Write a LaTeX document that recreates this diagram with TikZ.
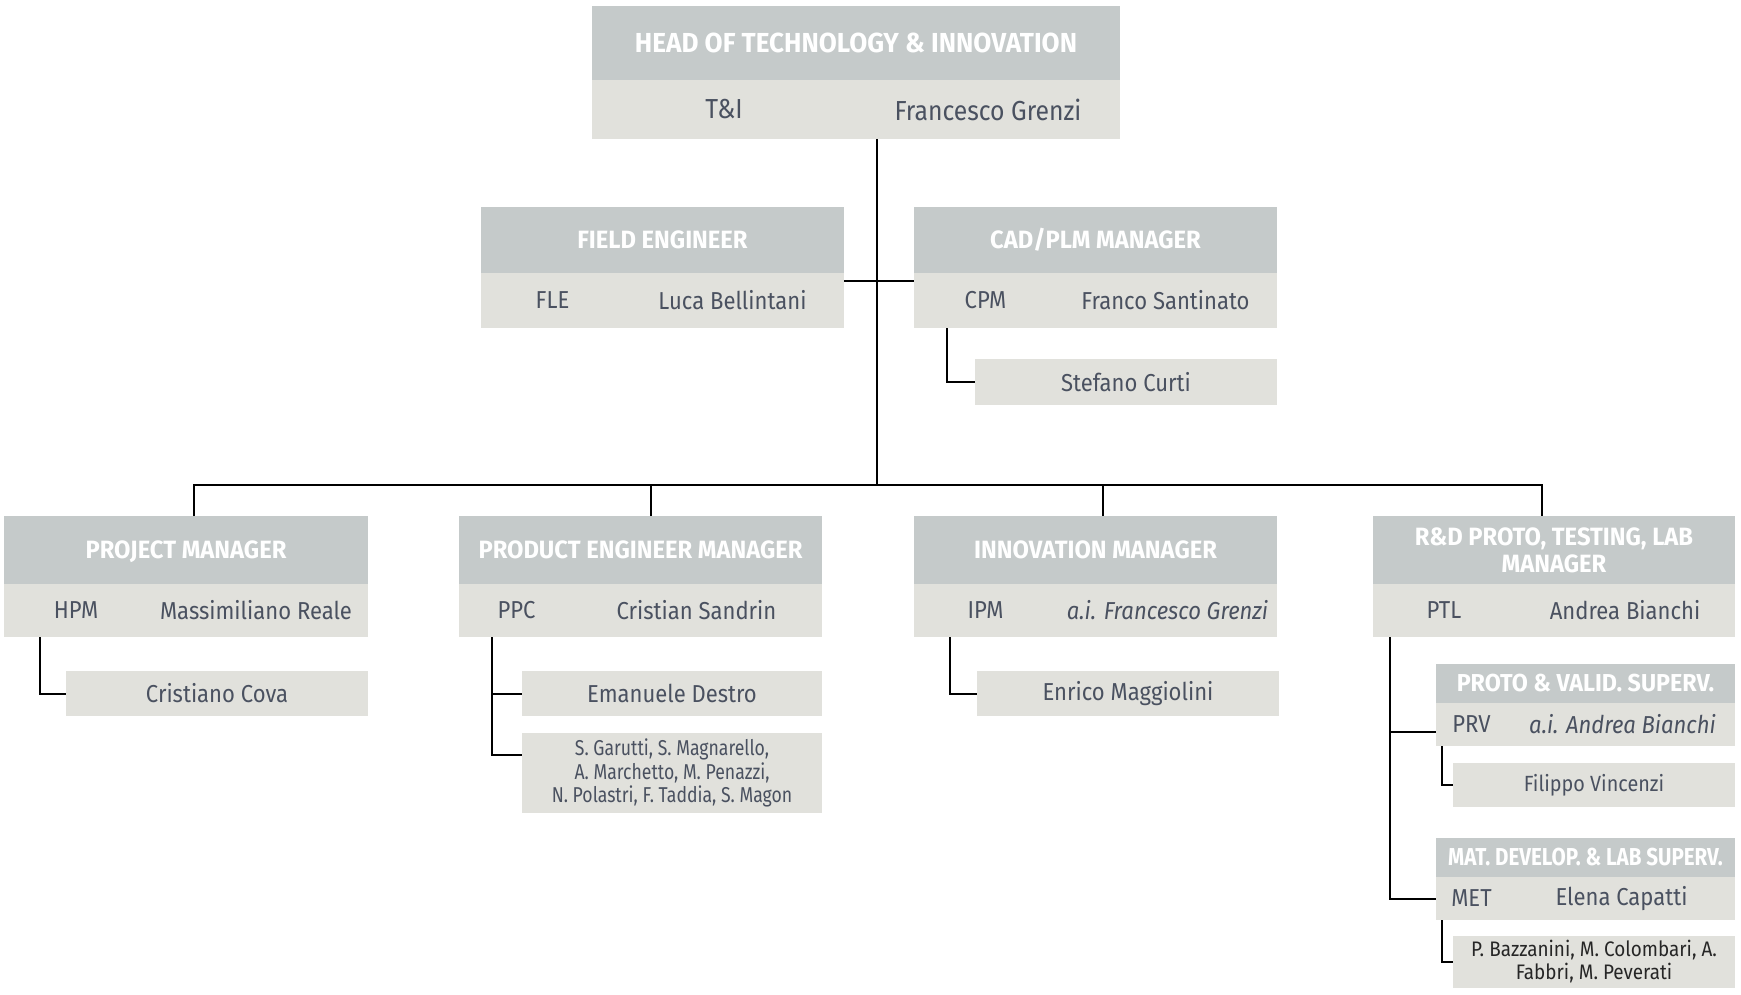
\documentclass[tikz,border=0pt]{standalone}
\usepackage{fontspec}
\setmainfont{Fira Sans}[FakeStretch=0.9]
\newfontfamily\headfont{Fira Sans}[FakeStretch=0.95]
\newfontfamily\tightfont{Fira Sans}[FakeStretch=0.84]
\newfontfamily\narrowfont{Fira Sans}[FakeStretch=0.82]
\begin{document}
\begin{tikzpicture}[x=1pt,y=-1pt]
\newcommand{\topsize}{\fontsize{27.5}{31}\selectfont}
\newcommand{\midsize}{\fontsize{24.5}{27}\selectfont}
\newcommand{\lowsize}{\fontsize{21}{23}\selectfont}
\definecolor{headcolor}{RGB}{197,202,202}
\definecolor{subcolor}{RGB}{225,225,220}
\definecolor{namecolor}{RGB}{74,81,96}
\tikzstyle{box}=[anchor=north west,inner sep=0pt,outer sep=0pt]
\tikzstyle{head}=[box,fill=headcolor,text=white,font=\headfont\fontsize{25}{27}\selectfont\bfseries,align=center]
\tikzstyle{sub}=[box,fill=subcolor]
\tikzstyle{member}=[box,fill=subcolor,text=namecolor,font=\midsize,align=center]
\tikzstyle{tag}=[text=namecolor,font=\midsize,inner sep=0pt]
\tikzstyle{link}=[line width=2pt]
\useasboundingbox (0,0) rectangle (1741,995);
% top
\node[head,font=\headfont\topsize\bfseries,minimum width=528pt,minimum height=74pt] (techH) at (592,6) {HEAD OF TECHNOLOGY \& INNOVATION};
\node[sub,minimum width=528pt,minimum height=59pt] (techS) at (techH.south west) {};
\node[tag,font=\topsize] (techC) at ([xshift=-132pt]techS.center) {T\&I};
\node[tag,font=\topsize] (techN) at ([xshift=132pt]techS.center) {Francesco Grenzi};
% staff
\node[head,minimum width=363pt,minimum height=66pt] (fleH) at (481,207) {FIELD ENGINEER};
\node[sub,minimum width=363pt,minimum height=55pt] (fleS) at (fleH.south west) {};
\node[tag] (fleC) at ([xshift=-110pt]fleS.center) {FLE};
\node[tag] (fleN) at ([xshift=70pt]fleS.center) {Luca Bellintani};
\node[head,minimum width=363pt,minimum height=66pt] (cpmH) at (914,207) {CAD/PLM MANAGER};
\node[sub,minimum width=363pt,minimum height=55pt] (cpmS) at (cpmH.south west) {};
\node[tag] (cpmC) at ([xshift=-110pt]cpmS.center) {CPM};
\node[tag] (cpmN) at ([xshift=70pt]cpmS.center) {Franco Santinato};
\node[member,minimum width=302pt,minimum height=46pt] (curti) at (975,359) {Stefano Curti};
% managers
\node[head,text depth=0pt,minimum width=364pt,minimum height=68pt] (pmH) at (4,516) {PROJECT MANAGER};
\node[sub,minimum width=364pt,minimum height=53pt] (pmS) at (pmH.south west) {};
\node[tag] (pmC) at ([xshift=-110pt]pmS.center) {HPM};
\node[tag] (pmN) at ([xshift=70pt]pmS.center) {Massimiliano Reale};
\node[head,minimum width=363pt,minimum height=68pt] (pemH) at (459,516) {PRODUCT ENGINEER MANAGER};
\node[sub,minimum width=363pt,minimum height=53pt] (pemS) at (pemH.south west) {};
\node[tag] (pemC) at ([xshift=-124pt]pemS.center) {PPC};
\node[tag] (pemN) at ([xshift=56pt]pemS.center) {Cristian Sandrin};
\node[head,minimum width=363pt,minimum height=68pt] (imH) at (914,516) {INNOVATION MANAGER};
\node[sub,minimum width=363pt,minimum height=53pt] (imS) at (imH.south west) {};
\node[tag] (imC) at ([xshift=-110pt]imS.center) {IPM};
\node[tag] (imN) at ([xshift=72pt]imS.center) {\itshape a.i. Francesco Grenzi};
\node[head,minimum width=362pt,minimum height=68pt] (rdH) at (1373,516) {R\&D PROTO, TESTING, LAB\\MANAGER};
\node[sub,minimum width=362pt,minimum height=53pt] (rdS) at (rdH.south west) {};
\node[tag] (rdC) at ([xshift=-110pt]rdS.center) {PTL};
\node[tag] (rdN) at ([xshift=71pt]rdS.center) {Andrea Bianchi};
% teams
\node[member,minimum width=302pt,minimum height=45pt] (cova) at (66,671) {Cristiano Cova};
\node[member,minimum width=300pt,minimum height=45pt] (destro) at (522,671) {Emanuele Destro};
\node[member,font=\narrowfont\fontsize{21.5}{23.5}\selectfont,minimum width=300pt,minimum height=80pt] (garutti) at (522,733) {S. Garutti, S. Magnarello,\\A. Marchetto, M. Penazzi,\\N. Polastri, F. Taddia, S. Magon};
\node[member,minimum width=302pt,minimum height=45pt] (maggiolini) at (977,671) {Enrico Maggiolini};
\node[head,font=\headfont\fontsize{24.5}{27}\selectfont\bfseries,minimum width=299pt,minimum height=39pt] (prvH) at (1436,664) {PROTO \& VALID. SUPERV.};
\node[sub,minimum width=299pt,minimum height=43pt] (prvS) at (prvH.south west) {};
\node[tag] (prvC) at ([xshift=-114pt]prvS.center) {PRV};
\node[tag] (prvN) at ([xshift=37pt]prvS.center) {\itshape a.i. Andrea Bianchi};
\node[member,font=\fontsize{22}{24}\selectfont,minimum width=282pt,minimum height=44pt] (vincenzi) at (1453,763) {Filippo Vincenzi};
\node[head,font=\tightfont\fontsize{24.5}{27}\selectfont\bfseries,minimum width=299pt,minimum height=39pt] (metH) at (1436,838) {MAT. DEVELOP. \& LAB SUPERV.};
\node[sub,minimum width=299pt,minimum height=43pt] (metS) at (metH.south west) {};
\node[tag] (metC) at ([xshift=-114pt]metS.center) {MET};
\node[tag] (metN) at ([xshift=36pt]metS.center) {Elena Capatti};
\node[member,font=\lowsize,text=black!85,minimum width=282pt,minimum height=52pt] (bazzanini) at (1453,936) {P. Bazzanini, M. Colombari, A.\\Fabbri, M. Peverati};
% lines
\coordinate (trunk) at (877,485);
\draw[link] (trunk |- techS.south) -- (trunk);
\draw[link] ([yshift=-8pt]fleS.north east) -- ([yshift=-8pt]cpmS.north west);
\draw[link] ([xshift=33pt]cpmS.south west) |- (curti.west);
\draw[link] ([xshift=8pt]pmH.north) |- ([xshift=-12pt]rdH.north |- trunk) -- ([xshift=-12pt]rdH.north);
\draw[link] ([xshift=10pt]pemH.north) -- ([xshift=10pt]pemH.north |- trunk);
\draw[link] ([xshift=7pt]imH.north) -- ([xshift=7pt]imH.north |- trunk);
\draw[link] ([xshift=36pt]pmS.south west) |- (cova.west);
\draw[link] ([xshift=33pt]pemS.south west) |- (destro.west);
\draw[link] ([xshift=33pt]pemS.south west) |- ([yshift=18pt]garutti.west);
\draw[link] ([xshift=36pt]imS.south west) |- (maggiolini.west);
\draw[link] ([xshift=17pt]rdS.south west) |- ([yshift=-7pt]prvS.west);
\draw[link] ([xshift=17pt]rdS.south west) |- (metS.west);
\draw[link] ([xshift=6pt]prvS.south west) |- (vincenzi.west);
\draw[link] ([xshift=6pt]metS.south west) |- (bazzanini.west);
\end{tikzpicture}
\end{document}
